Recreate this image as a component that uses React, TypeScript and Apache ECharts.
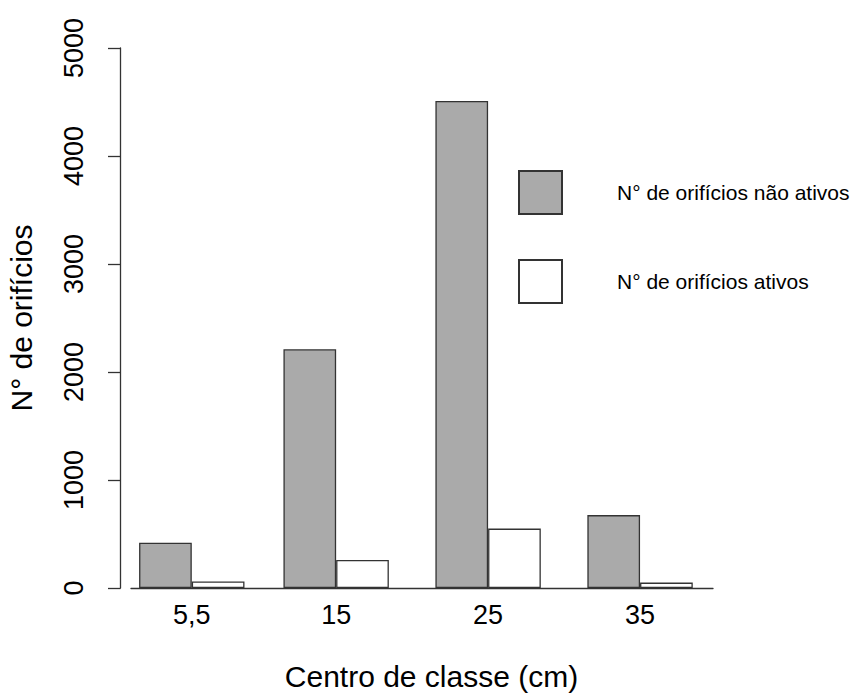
import React, { useEffect, useRef } from "react";
import * as echarts from "echarts";

const classCenters = [5.5, 15, 25, 35];
const naoAtivos = [420, 2210, 4510, 675];
const ativos = [60, 260, 550, 50];
const yTicks = [0, 1000, 2000, 3000, 4000, 5000];
const seriesNames = ["N° de orifícios não ativos", "N° de orifícios ativos"];

const FONT = "'Liberation Sans', Arial, sans-serif";

export default function App() {
  const ref = useRef<HTMLDivElement>(null);
  useEffect(() => {
    if (!ref.current) return;
    const chart = echarts.init(ref.current, undefined, { renderer: "svg" });
    chart.setOption({
      animation: false,
      backgroundColor: "#ffffff",
      textStyle: { fontFamily: FONT, color: "#000" },
      grid: {
        left: 131,
        width: 582,
        top: 48,
        height: 540,
        containLabel: false,
        outerBoundsMode: "none",
      },
      legend: {
        orient: "vertical",
        left: 518,
        top: 170,
        padding: 0,
        itemWidth: 43,
        itemHeight: 43,
        itemGap: 44,
        icon: "rect",
        data: seriesNames,
        textStyle: { fontFamily: FONT, fontSize: 21, color: "#000", padding: [0, 0, 0, 50] },
      },
      xAxis: {
        type: "value",
        min: 1.5,
        max: 39.8,
        splitLine: { show: false },
        axisLine: { show: true, onZero: false, lineStyle: { color: "#333", width: 1.3 } },
        axisTick: { show: false },
        axisLabel: {
          customValues: classCenters,
          formatter: (v: number) => String(v).replace(".", ","),
          fontSize: 27,
          color: "#000",
          margin: 13,
          fontFamily: FONT,
        },
        name: "Centro de classe (cm)",
        nameLocation: "middle",
        nameGap: 73,
        nameTextStyle: { fontSize: 30, color: "#000", fontFamily: FONT, padding: [0, 0, 0, 19] },
      },
      yAxis: {
        type: "value",
        min: yTicks[0],
        max: yTicks[yTicks.length - 1],
        interval: 1000,
        offset: 10.5,
        splitLine: { show: false },
        axisLine: { show: true, lineStyle: { color: "#333", width: 1.3 } },
        axisTick: { show: true, length: 12.5, lineStyle: { color: "#333", width: 1.3 } },
        axisLabel: {
          rotate: 90,
          fontSize: 27,
          color: "#000",
          margin: 33,
          fontFamily: FONT,
          formatter: (v: number) => String(v),
        },
        name: "N° de orifícios",
        nameLocation: "middle",
        nameRotate: 90,
        nameGap: 84,
        nameTextStyle: { fontSize: 30, color: "#000", fontFamily: FONT },
      },
      series: [
        {
          name: seriesNames[0],
          type: "bar",
          barWidth: 52.7,
          barGap: "0%",
          data: classCenters.map((c, i) => [c, naoAtivos[i]]),
          itemStyle: { color: "#aaaaaa", borderColor: "#333", borderWidth: 1.3 },
        },
        {
          name: seriesNames[1],
          type: "bar",
          barWidth: 52.7,
          barGap: "0%",
          data: classCenters.map((c, i) => [c, ativos[i]]),
          itemStyle: { color: "#ffffff", borderColor: "#333", borderWidth: 1.3 },
        },
      ],
    });
    return () => chart.dispose();
  }, []);
  return (
    <div
      ref={ref}
      style={{ position: "fixed", left: 0, top: 0, width: 859, height: 695, background: "#fff" }}
    />
  );
}
